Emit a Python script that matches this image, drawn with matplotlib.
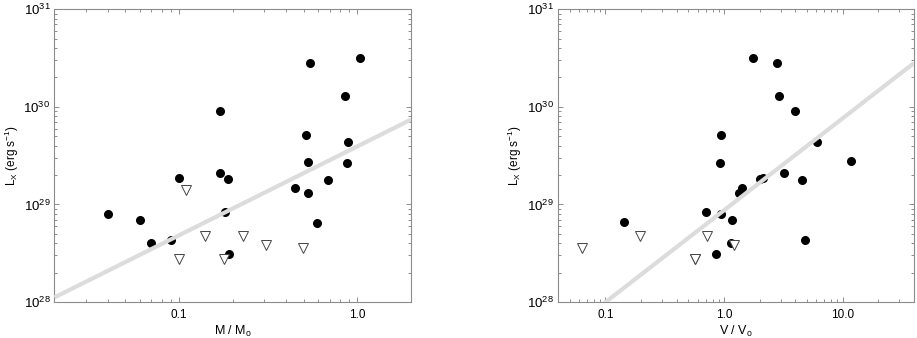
import matplotlib
matplotlib.use("Agg")
import matplotlib.pyplot as plt
import numpy as np
from matplotlib.ticker import LogLocator, FixedLocator, FuncFormatter, NullFormatter

plt.rcParams['font.family'] = ['Liberation Sans', 'DejaVu Sans']
plt.rcParams['mathtext.fontset'] = 'custom'
plt.rcParams['mathtext.rm'] = 'Liberation Sans'
plt.rcParams['mathtext.it'] = 'Liberation Sans'

# ---- Left panel: mass ----
mass_det = [0.040, 0.060, 0.070, 0.090, 0.100, 0.169, 0.170, 0.189, 0.180, 0.190,
            0.446, 0.514, 0.527, 0.527, 0.546, 0.597, 0.686, 0.857, 0.891, 0.870, 1.03]
lx_mass_det = [7.9e28, 7.0e28, 4.0e28, 4.3e28, 1.86e29, 9.06e29, 2.1e29, 1.82e29, 8.3e28, 3.1e28,
               1.46e29, 5.2e29, 2.74e29, 1.30e29, 2.79e30, 6.5e28, 1.78e29, 1.29e30, 4.36e29, 2.66e29, 3.18e30]
mass_lim = [0.110, 0.100, 0.139, 0.179, 0.229, 0.306, 0.496]
lx_mass_lim = [1.4e29, 2.76e28, 4.75e28, 2.76e28, 4.75e28, 3.81e28, 3.55e28]
mass_fit_x = [0.02, 2.0]
mass_fit_a, mass_fit_b = 29.595, 0.911   # log Lx = a + b log M

# ---- Right panel: rotational velocity ----
vel_det = [1.77, 2.79, 2.90, 3.94, 0.94, 6.03, 0.927, 11.7, 3.18, 2.01, 2.12,
           4.59, 1.41, 1.35, 0.70, 0.946, 1.16, 0.144, 1.14, 4.83, 0.86]
lx_vel_det = [3.18e30, 2.79e30, 1.29e30, 9.06e29, 5.2e29, 4.36e29, 2.66e29, 2.77e29, 2.1e29, 1.82e29, 1.86e29,
              1.78e29, 1.46e29, 1.30e29, 8.3e28, 7.9e28, 7.0e28, 6.6e28, 4.0e28, 4.3e28, 3.1e28]
vel_lim = [0.0635, 0.194, 0.716, 0.564, 0.570, 1.22]
lx_vel_lim = [3.55e28, 4.75e28, 4.75e28, 2.76e28, 2.76e28, 3.8e28]
vel_fit_x = [0.04, 40.0]
vel_fit_a, vel_fit_b = 28.94, 0.942

ylim = (1e28, 1e31)
ytick_vals = [1e28, 1e29, 1e30, 1e31]
left_xticks = [0.1, 1.0]
left_xticklabels = ['0.1', '1.0']
right_xticks = [0.1, 1.0, 10.0]
right_xticklabels = ['0.1', '1.0', '10.0']

fig = plt.figure(figsize=(9.17, 3.38), dpi=100)
ax1 = fig.add_axes([0.0594, 0.1065, 0.3888, 0.866])
ax2 = fig.add_axes([0.6088, 0.1065, 0.3879, 0.866])

frame_col = '#8c8c8c'

def style(ax, xlim, xt, xtl, xlabel):
    ax.set_xscale('log')
    ax.set_yscale('log')
    ax.set_xlim(*xlim)
    ax.set_ylim(*ylim)
    for s in ax.spines.values():
        s.set_color(frame_col)
        s.set_linewidth(0.8)
    ax.xaxis.set_major_locator(FixedLocator(xt))
    ax.set_xticklabels(xtl)
    ax.xaxis.set_minor_locator(LogLocator(base=10, subs=np.arange(2, 10)))
    ax.xaxis.set_minor_formatter(NullFormatter())
    ax.yaxis.set_major_locator(FixedLocator(ytick_vals))
    ax.yaxis.set_major_formatter(FuncFormatter(
        lambda v, p: r'$\mathregular{10^{%d}}$' % int(round(np.log10(v)))))
    ax.yaxis.set_minor_locator(LogLocator(base=10, subs=np.arange(2, 10)))
    ax.yaxis.set_minor_formatter(NullFormatter())
    ax.tick_params(which='both', direction='in', top=True, right=True,
                   color=frame_col, width=0.7, labelsize=8.5, labelcolor='black')
    ax.tick_params(which='major', length=3.3, pad=5)
    ax.tick_params(which='minor', length=2.0)
    ax.tick_params(axis='y', which='major', labelsize=9.5, pad=3)
    ax.set_xlabel(xlabel, fontsize=9, labelpad=2)
    ax.set_ylabel(r'$\mathregular{L_X\ (erg\ s^{-1})}$', fontsize=8.5, labelpad=2)

def draw(ax, xd, yd, xl, yl, fx, a, b):
    ax.plot(xd, yd, 'o', color='black', markersize=6.5, markeredgewidth=0, zorder=2)
    ax.plot(xl, yl, 'v', markerfacecolor='white', markeredgecolor='#444444',
            markersize=6.8, markeredgewidth=0.7, zorder=2)
    fx = np.array(fx)
    ax.plot(fx, 10 ** (a + b * np.log10(fx)), '-', color='#dcdcdc', linewidth=3, zorder=3,
            solid_capstyle='butt')

draw(ax1, mass_det, lx_mass_det, mass_lim, lx_mass_lim, mass_fit_x, mass_fit_a, mass_fit_b)
style(ax1, (0.02, 2.0), left_xticks, left_xticklabels, r'$\mathregular{M\ /\ M_o}$')
draw(ax2, vel_det, lx_vel_det, vel_lim, lx_vel_lim, vel_fit_x, vel_fit_a, vel_fit_b)
style(ax2, (0.04, 40.0), right_xticks, right_xticklabels, r'$\mathregular{V\ /\ V_o}$')

fig.savefig('out.png', dpi=100)
